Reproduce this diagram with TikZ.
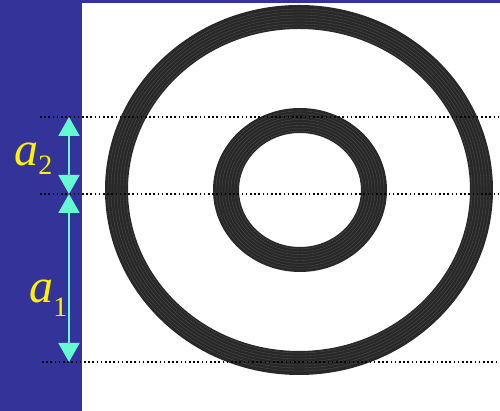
\documentclass[tikz,border=0pt]{standalone}
\usepackage{fontspec}
\setmainfont{Liberation Serif}
\usetikzlibrary{arrows.meta}
\definecolor{slideblue}{RGB}{51,51,153}
\definecolor{dimcyan}{RGB}{100,250,210}
\definecolor{ringgray}{RGB}{40,40,40}
\tikzset{
  guide/.style={line width=0.8pt,dash pattern=on 0.8pt off 1.3pt},
  dimarrow/.style={dimcyan,line width=1pt,{Triangle[width=10.5pt,length=9.5pt]}-{Triangle[width=10.5pt,length=9.5pt]}},
  ring/.style={fill=ringgray,even odd rule},
  dimlabel/.style={yellow,anchor=base west,inner sep=0pt}
}
\newcommand\dimtext[2]{\fontsize{24}{24}\selectfont\textit{a}\raisebox{-#2}{\fontsize{14}{14}\selectfont #1}}
\begin{document}
\begin{tikzpicture}[x=0.5pt,y=0.5pt]
			\useasboundingbox (0,0) rectangle (500,411);
			\path
			(299,221) coordinate (O)
			(300,221) coordinate (I)
			(40,294) coordinate (TL)
			(500,294) coordinate (TR)
			(40,217) coordinate (ML)
			(500,217) coordinate (MR)
			(42,49) coordinate (BL)
			(500,49) coordinate (BR)
			(69,294) coordinate (A)
			(69,217) coordinate (B)
			(69,49) coordinate (C);
			
			% slide background
			\fill[slideblue] (0,0) rectangle (82,411);
			\fill[slideblue] (0,408) rectangle (500,411);
			
			% the two rings
			\fill[ring] (O) ellipse [x radius=194, y radius=185] (O) ellipse [x radius=171, y radius=161];
			\fill[ring] (I) ellipse [x radius=87, y radius=82] (I) ellipse [x radius=61, y radius=57];
			\foreach \r in {2,5,8,11,14,17,20}
			\draw[black!68,line width=0.15pt] (O) ellipse [x radius=171+\r, y radius=161+\r];
			\foreach \r in {2,5,8,11,14,17,20,23}
			\draw[black!68,line width=0.15pt] (I) ellipse [x radius=61+\r, y radius=57+\r*25/26];
			
			\draw[guide] (TL)--(TR);
			\draw[guide] (ML)--(MR);
			\draw[guide] (BL)--(BR);
			
			\draw[dimarrow] (A)--(B);
			\draw[dimarrow] (B)--(C);
			
			\node[dimlabel] (a2) at (14,245) {\dimtext{2}{4.5pt}};
			\node[dimlabel] (a1) at (29,108) {\dimtext{1}{7pt}};
		\end{tikzpicture}
\end{document}
